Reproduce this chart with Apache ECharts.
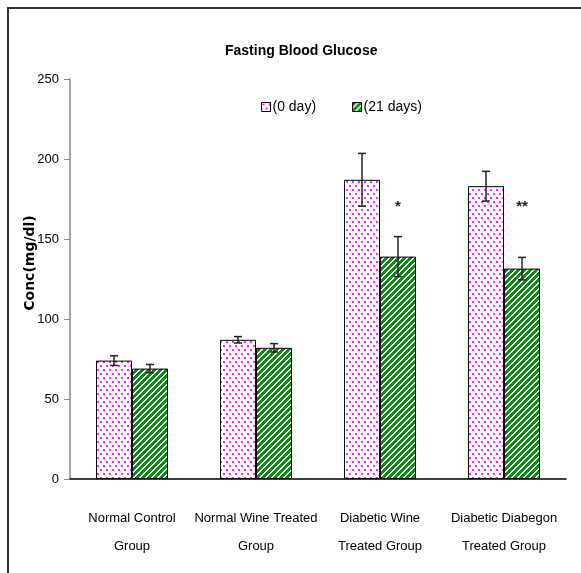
<!DOCTYPE html>
<html>
<head>
<meta charset="utf-8">
<script src="https://cdn.jsdelivr.net/npm/echarts@6/dist/echarts.min.js"></script>
<style>
  html, body { margin: 0; padding: 0; background: #fff; }
  #chart { width: 581px; height: 573px; }
</style>
</head>
<body>
<div id="chart"></div>
<script>
const groups = ['Normal Control\nGroup', 'Normal Wine Treated\nGroup', 'Diabetic Wine\nTreated Group', 'Diabetic Diabegon\nTreated Group'];
const day0 = [74, 87, 187, 183];
const day0Err = [3, 2, 16.5, 9.3];
const day21 = [69, 82, 139, 131.5];
const day21Err = [2.6, 2.6, 12.5, 7];
const sigMarks = ['', '', '*', '**'];
const sigY = [0, 0, 170, 170];
const yTicks = [0, 50, 100, 150, 200, 250];

const sans = "'Liberation Sans', Arial, sans-serif";

function makePattern(kind) {
  const c = document.createElement('canvas');
  if (kind === 'dots') {
    c.width = 6; c.height = 8;
    const ctx = c.getContext('2d');
    ctx.fillStyle = '#fff';
    ctx.fillRect(0, 0, 6, 8);
    ctx.fillStyle = '#ff22ff';
    ctx.fillRect(1, 1, 2, 2);
    ctx.fillRect(4, 5, 2, 2);
  } else {
    c.width = 6; c.height = 6;
    const ctx = c.getContext('2d');
    ctx.fillStyle = '#fff';
    ctx.fillRect(0, 0, 6, 6);
    ctx.fillStyle = '#0e8a16';
    for (let x = 0; x < 6; x++) {
      for (let y = 0; y < 6; y++) {
        if ((x + y) % 6 < 4) ctx.fillRect(x, y, 1, 1);
      }
    }
  }
  return { image: c, repeat: 'repeat' };
}

const pinkFill = makePattern('dots');
const greenFill = makePattern('stripes');

const barW = 36;

function errorBar(values, errs, side) {
  return {
    type: 'custom',
    silent: true,
    z: 5,
    data: values.map((v, i) => [i, v, errs[i]]),
    renderItem: function (params, api) {
      const i = api.value(0);
      const v = api.value(1);
      const e = api.value(2);
      const top = api.coord([i, v + e]);
      const bot = api.coord([i, v - e]);
      const x = top[0] + side * barW / 2;
      const cap = 4;
      const style = { stroke: '#222', lineWidth: 1.5 };
      return {
        type: 'group',
        children: [
          { type: 'line', shape: { x1: x, y1: top[1], x2: x, y2: bot[1] }, style: style },
          { type: 'line', shape: { x1: x - cap, y1: top[1], x2: x + cap, y2: top[1] }, style: style },
          { type: 'line', shape: { x1: x - cap, y1: bot[1], x2: x + cap, y2: bot[1] }, style: style }
        ]
      };
    }
  };
}

const chart = echarts.init(document.getElementById('chart'), null, { renderer: 'canvas' });

const option = {
  animation: false,
  backgroundColor: '#fff',
  title: {
    text: 'Fasting Blood Glucose',
    left: 220,
    top: 39,
    textStyle: { fontFamily: sans, fontSize: 14, fontWeight: 'bold', color: '#000' }
  },
  legend: {
    left: 256,
    top: 95,
    itemWidth: 9,
    itemHeight: 9,
    itemGap: 36,
    textStyle: { fontFamily: sans, fontSize: 14, color: '#000', padding: [0, 0, 0, -3] },
    data: [
      { name: '(0 day)', icon: 'rect', itemStyle: { color: pinkFill, borderColor: '#000', borderWidth: 1 } },
      { name: '(21 days)', icon: 'rect', itemStyle: { color: greenFill, borderColor: '#000', borderWidth: 1 } }
    ]
  },
  grid: { left: 70, right: 15, top: 79, bottom: 94 },
  xAxis: {
    type: 'category',
    data: groups,
    axisLine: { lineStyle: { color: '#000', width: 1.5 } },
    axisTick: { length: 7, lineStyle: { color: '#000' } },
    axisLabel: {
      fontFamily: sans,
      fontSize: 13,
      color: '#000',
      lineHeight: 28,
      margin: 25,
      interval: 0
    }
  },
  yAxis: {
    type: 'value',
    min: 0,
    max: 250,
    interval: 50,
    axisLine: { show: true, lineStyle: { color: '#888', width: 1.5 } },
    axisTick: { show: true, length: 6, lineStyle: { color: '#888' } },
    axisLabel: {
      fontFamily: sans,
      fontSize: 13,
      color: '#000',
      margin: 11,
      formatter: (v) => (yTicks.indexOf(v) >= 0 ? String(v) : '')
    },
    splitLine: { show: false }
  },
  series: [
    {
      name: '(0 day)',
      type: 'bar',
      barWidth: barW,
      barGap: '0%',
      data: day0,
      itemStyle: { color: pinkFill, borderColor: '#000', borderWidth: 1 }
    },
    {
      name: '(21 days)',
      type: 'bar',
      barWidth: barW,
      data: day21,
      itemStyle: { color: greenFill, borderColor: '#000', borderWidth: 1 }
    },
    errorBar(day0, day0Err, -1),
    errorBar(day21, day21Err, 1),
    {
      type: 'custom',
      silent: true,
      z: 6,
      data: sigMarks.map((m, i) => [i, sigY[i], m]),
      renderItem: function (params, api) {
        const i = api.value(0);
        const p = api.coord([i, api.value(1)]);
        return {
          type: 'text',
          x: p[0] + barW / 2,
          y: p[1],
          style: {
            text: sigMarks[i],
            fontFamily: sans,
            fontSize: 15,
            fontWeight: 'bold',
            fill: '#222',
            align: 'center',
            verticalAlign: 'middle'
          }
        };
      }
    }
  ],
  graphic: [
    {
      type: 'rect',
      shape: { x: 8, y: 8, width: 700, height: 700 },
      style: { fill: 'none', stroke: '#333', lineWidth: 2 },
      silent: true,
      z: -1
    },
    {
      type: 'text',
      x: 30,
      y: 263,
      rotation: Math.PI / 2,
      style: {
        text: 'Conc(mg/dl)',
        fontFamily: "'DejaVu Sans', Verdana, sans-serif",
        fontSize: 14,
        fontWeight: 'bold',
        fill: '#000',
        align: 'center',
        verticalAlign: 'middle'
      },
      silent: true
    }
  ]
};

chart.setOption(option);
</script>
</body>
</html>
